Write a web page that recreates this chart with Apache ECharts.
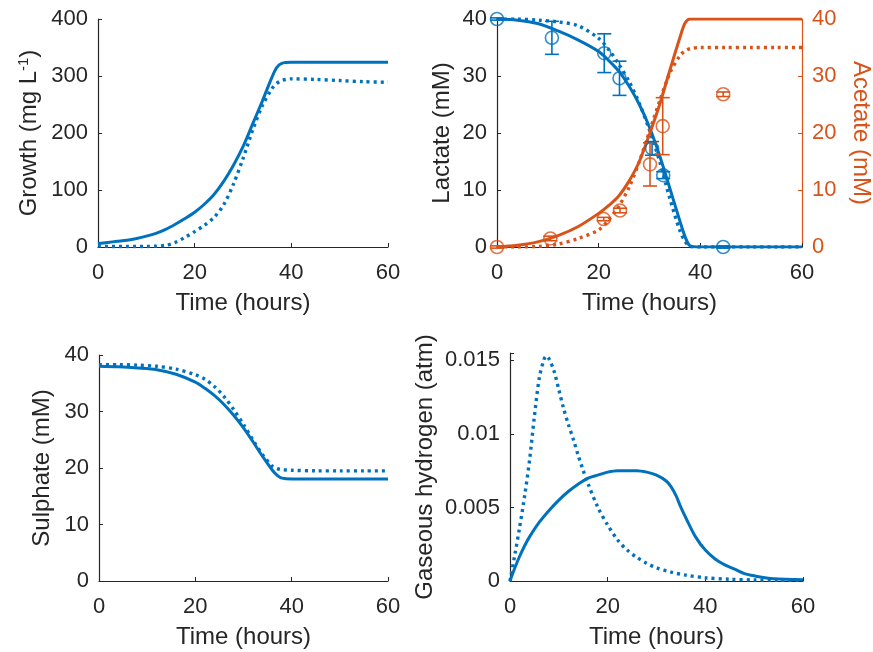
<!DOCTYPE html>
<html>
<head>
<meta charset="utf-8">
<script src="https://cdn.jsdelivr.net/npm/echarts@6/dist/echarts.min.js"></script>
<style>
  html, body { margin: 0; padding: 0; background: #fff; }
  #main { width: 873px; height: 652px; }
</style>
</head>
<body>
<div id="main"></div>
<script>
// growth (mg/L)
const tGrowth = [0, 2, 4, 6, 8, 10, 12, 14, 16, 18, 20, 22, 24, 26, 28, 30, 32, 34, 36, 37, 38, 40, 45, 50, 55, 60]
const growthSolid = [6, 8, 10, 12, 15, 19, 24, 31, 40, 50, 61, 75, 92, 115, 143, 176, 216, 256, 298, 315, 322, 324, 324, 324, 324, 324]
const growthDotted = [2, 1, 1, 1, 1, 1, 1.5, 3, 8, 17, 27, 38, 52, 74, 110, 155, 205, 248, 278, 287, 292, 295, 294, 292, 290, 289]

// lactate / acetate / sulphate (mM)
const tConc = [0, 4, 8, 12, 16, 20, 22, 24, 26, 28, 30, 32, 34, 36, 37, 38, 40, 45, 50, 55, 60]
const lactateSolid = [40, 39.8, 39.2, 37.9, 36.3, 34.3, 32.7, 30.8, 28.2, 25, 21, 16, 10.3, 4.5, 1.8, 0.2, 0, 0, 0, 0, 0]
const lactateDotted = [40, 40, 39.8, 39.5, 38.8, 36.6, 34.6, 32, 29, 25.2, 20.5, 15, 8.5, 2.8, 1, 0.1, 0, 0, 0, 0, 0]
const acetateSolid = [0, 0.3, 0.9, 2, 3.6, 5.9, 7.3, 9, 11.6, 15, 19.8, 25, 31, 36.8, 39.3, 40, 40, 40, 40, 40, 40]
const acetateDotted = [0, 0, 0.1, 0.5, 1.5, 3, 4.8, 7.2, 10.5, 15, 20.3, 25.6, 30.5, 33.6, 34.4, 34.8, 35, 35, 35, 35, 35]
const sulphateSolid = [38, 37.9, 37.7, 37.4, 36.6, 35.2, 34.1, 32.8, 31.2, 29.3, 27.1, 24.6, 22, 19.6, 18.7, 18.2, 18.05, 18.05, 18.05, 18.05, 18.05]
const sulphateDotted = [38.3, 38.3, 38.2, 38, 37.5, 36.5, 35.7, 34.4, 32.6, 30.3, 27.7, 24.9, 22.3, 20.3, 19.9, 19.7, 19.6, 19.5, 19.5, 19.5, 19.5]

// measured points with error bars
const lactateObsT = [0, 10.8, 21.1, 24.1, 30.5, 32.7, 44.5]
const lactateObs = [40, 36.7, 34, 29.6, 17.3, 12.6, 0]
const lactateErr = [0.2, 2.9, 3.4, 3, 1.2, 0.6, 0.2]
const acetateObsT = [0, 10.5, 21, 24.2, 30.1, 32.6, 44.5]
const acetateObs = [0, 1.5, 4.9, 6.4, 14.5, 21.2, 26.8]
const acetateErr = [0.2, 0.4, 0.3, 0.4, 3.8, 5, 0.4]

// gaseous hydrogen (atm)
const tH2Solid = [0, 1, 2, 3, 4, 6, 8, 10, 12, 14, 16, 18, 20, 22, 24, 26, 28, 30, 32, 33, 34, 35, 36, 38, 40, 42, 44, 46, 48, 50, 54, 60]
const h2Solid = [0, 0.0009, 0.0017, 0.0024, 0.003, 0.004, 0.0048, 0.0055, 0.0061, 0.0066, 0.007, 0.0072, 0.0074, 0.0075, 0.0075, 0.0075, 0.0074, 0.0072, 0.0068, 0.0064, 0.0058, 0.005, 0.0043, 0.003, 0.0021, 0.0015, 0.0011, 0.0008, 0.0005, 0.00035, 0.00015, 0.00008]
const tH2Dotted = [0, 1, 2, 3, 4, 5, 6, 7, 7.5, 8, 9, 10, 11, 12, 13, 14, 15, 16, 18, 20, 22, 24, 26, 28, 30, 33, 36, 40, 45, 50, 55, 60]
const h2Dotted = [0, 0.0018, 0.0037, 0.0058, 0.0082, 0.0112, 0.0138, 0.0151, 0.0153, 0.0151, 0.0143, 0.013, 0.0117, 0.0106, 0.0096, 0.0085, 0.0075, 0.0066, 0.005, 0.0038, 0.0028, 0.0021, 0.0016, 0.0012, 0.0009, 0.0006, 0.0004, 0.00022, 0.00012, 0.00007, 0.00005, 0.00004]

const timeTicks = [0, 20, 40, 60]

const BLUE = '#0072BD'
const ORANGE = '#D95319'
const INK = '#262626'
const FONT = 'Liberation Sans, Arial, sans-serif'
const TICK_SIZE = 22
const NAME_SIZE = 24

const pairs = (t, v) => t.map((x, i) => [x, v[i]])
const triples = (t, v, e) => t.map((x, i) => [x, v[i], e[i]])

const chart = echarts.init(document.getElementById('main'), null, { renderer: 'canvas' })

const xAxis = (gridIndex) => ({
  type: 'value',
  gridIndex,
  min: timeTicks[0],
  max: timeTicks[timeTicks.length - 1],
  interval: timeTicks[1] - timeTicks[0],
  name: 'Time (hours)',
  nameLocation: 'middle',
  nameGap: 44,
  nameTextStyle: { fontSize: NAME_SIZE, color: INK, fontFamily: FONT },
  axisLine: { show: true, lineStyle: { color: INK, width: 1.2 } },
  axisTick: { show: true, inside: true, length: 4, lineStyle: { color: INK } },
  axisLabel: { fontSize: TICK_SIZE, color: INK, fontFamily: FONT, margin: 15 },
  splitLine: { show: false }
})

const yAxis = (gridIndex, opts) => Object.assign({
  type: 'value',
  gridIndex,
  nameLocation: 'middle',
  nameRotate: 90,
  nameTextStyle: { fontSize: NAME_SIZE, color: INK, fontFamily: FONT },
  axisLine: { show: true, onZero: false, lineStyle: { color: INK, width: 1.2 } },
  axisTick: { show: true, inside: true, length: 4, lineStyle: { color: INK } },
  axisLabel: { fontSize: TICK_SIZE, color: INK, fontFamily: FONT, margin: 10 },
  splitLine: { show: false }
}, opts)

const line = (name, data, xi, yi, color, dotted) => ({
  name,
  type: 'line',
  xAxisIndex: xi,
  yAxisIndex: yi,
  data,
  showSymbol: false,
  smooth: 0.3,
  silent: true,
  lineStyle: dotted ? { color, width: 3.4, type: [3, 4] } : { color, width: 3 },
  z: dotted ? 3 : 4
})

function renderErr(params, api) {
  const x = api.value(0)
  const y = api.value(1)
  const e = api.value(2)
  const top = api.coord([x, y + e])
  const bot = api.coord([x, y - e])
  const w = 7
  const style = { stroke: api.visual('color'), lineWidth: 1.6 }
  return {
    type: 'group',
    children: [
      { type: 'line', shape: { x1: top[0], y1: top[1], x2: bot[0], y2: bot[1] }, style },
      { type: 'line', shape: { x1: top[0] - w, y1: top[1], x2: top[0] + w, y2: top[1] }, style },
      { type: 'line', shape: { x1: bot[0] - w, y1: bot[1], x2: bot[0] + w, y2: bot[1] }, style }
    ]
  }
}

const errSeries = (data, xi, yi, color) => ({
  type: 'custom',
  xAxisIndex: xi,
  yAxisIndex: yi,
  data,
  renderItem: renderErr,
  itemStyle: { color },
  clip: false,
  z: 6
})

const markerSeries = (data, xi, yi, color) => ({
  type: 'scatter',
  xAxisIndex: xi,
  yAxisIndex: yi,
  data,
  symbol: 'circle',
  symbolSize: 13,
  itemStyle: { color: 'rgba(0,0,0,0)', borderColor: color, borderWidth: 1.6 },
  z: 7
})

const option = {
  backgroundColor: '#fff',
  animation: false,
  grid: [
    { left: 98, top: 19, width: 290, height: 228, outerBoundsMode: 'none' },
    { left: 497, top: 19, width: 305, height: 228, outerBoundsMode: 'none' },
    { left: 99, top: 355, width: 289, height: 226, outerBoundsMode: 'none' },
    { left: 510, top: 353, width: 293, height: 228, outerBoundsMode: 'none' }
  ],
  xAxis: [xAxis(0), xAxis(1), xAxis(2), xAxis(3)],
  yAxis: [
    yAxis(0, {
      min: 0, max: 400, interval: 100,
      name: 'Growth (mg L{sup|-1})',
      nameGap: 55,
      nameTextStyle: {
        fontSize: NAME_SIZE, color: INK, fontFamily: FONT,
        rich: { sup: { fontSize: 15, color: INK, fontFamily: FONT, verticalAlign: 'top', padding: [0, 0, 12, 0] } }
      }
    }),
    yAxis(1, { min: 0, max: 40, interval: 10, name: 'Lactate (mM)', nameGap: 43 }),
    yAxis(1, {
      min: 0, max: 40, interval: 10, position: 'right', name: 'Acetate (mM)', nameGap: 47,
      nameRotate: -90,
      nameTextStyle: { fontSize: NAME_SIZE, color: ORANGE, fontFamily: FONT },
      axisLine: { show: true, onZero: false, lineStyle: { color: ORANGE, width: 1.2 } },
      axisTick: { show: true, inside: true, length: 4, lineStyle: { color: ORANGE } },
      axisLabel: { fontSize: TICK_SIZE, color: ORANGE, fontFamily: FONT, margin: 10 }
    }),
    yAxis(2, { min: 0, max: 40, interval: 10, name: 'Sulphate (mM)', nameGap: 45 }),
    yAxis(3, {
      min: 0, max: 0.0155, interval: 0.005, name: 'Gaseous hydrogen (atm)', nameGap: 73,
      axisLabel: {
        fontSize: TICK_SIZE, color: INK, fontFamily: FONT, margin: 10,
        formatter: (v) => (v > 0.0151 ? '' : String(+v.toFixed(3)))
      }
    })
  ],
  series: [
    line('growth-solid', pairs(tGrowth, growthSolid), 0, 0, BLUE, false),
    line('growth-dotted', pairs(tGrowth, growthDotted), 0, 0, BLUE, true),

    line('lactate-dotted', pairs(tConc, lactateDotted), 1, 1, BLUE, true),
    line('lactate-solid', pairs(tConc, lactateSolid), 1, 1, BLUE, false),
    line('acetate-dotted', pairs(tConc, acetateDotted), 1, 2, ORANGE, true),
    line('acetate-solid', pairs(tConc, acetateSolid), 1, 2, ORANGE, false),
    errSeries(triples(lactateObsT, lactateObs, lactateErr), 1, 1, BLUE),
    markerSeries(pairs(lactateObsT, lactateObs), 1, 1, BLUE),
    errSeries(triples(acetateObsT, acetateObs, acetateErr), 1, 2, ORANGE),
    markerSeries(pairs(acetateObsT, acetateObs), 1, 2, ORANGE),

    line('sulphate-solid', pairs(tConc, sulphateSolid), 2, 3, BLUE, false),
    line('sulphate-dotted', pairs(tConc, sulphateDotted), 2, 3, BLUE, true),

    line('h2-solid', pairs(tH2Solid, h2Solid), 3, 4, BLUE, false),
    line('h2-dotted', pairs(tH2Dotted, h2Dotted), 3, 4, BLUE, true)
  ]
}

option && chart.setOption(option)
</script>
</body>
</html>
